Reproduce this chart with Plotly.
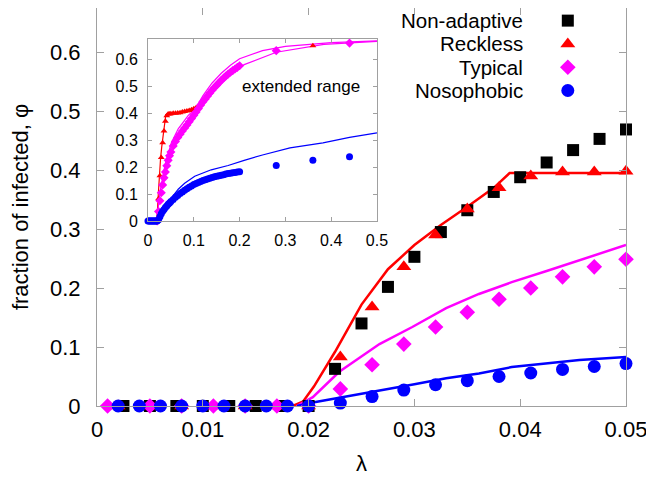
import plotly.graph_objects as go

# ---------------- main panel data ----------------
nonad_x = [0.0025, 0.005, 0.0075, 0.01, 0.0125, 0.015, 0.0175, 0.02, 0.0225, 0.025,
           0.0275, 0.03, 0.0325, 0.035, 0.0375, 0.04, 0.0425, 0.045, 0.0475, 0.05]
nonad_y = [0, 0, 0, 0, 0, 0, 0, 0, 0.063, 0.14,
           0.202, 0.253, 0.295, 0.332, 0.363, 0.388, 0.413, 0.434, 0.453, 0.469]

reck_x = [0.002, 0.005, 0.008, 0.011, 0.014, 0.017, 0.02, 0.023, 0.026, 0.029,
          0.032, 0.035, 0.038, 0.041, 0.044, 0.047, 0.05]
reck_y = [0, 0, 0, 0, 0, 0, 0, 0.083, 0.168, 0.236,
          0.29, 0.334, 0.37, 0.39, 0.397, 0.397, 0.398]

typ_x = [0.001, 0.005, 0.008, 0.011, 0.014, 0.017, 0.02, 0.023, 0.026, 0.029,
         0.032, 0.035, 0.038, 0.041, 0.044, 0.047, 0.05]
typ_y = [0, 0, 0, 0, 0, 0, 0, 0.029, 0.07, 0.105,
         0.134, 0.159, 0.181, 0.2, 0.219, 0.236, 0.249]

noso_x = [0.002, 0.004, 0.006, 0.008, 0.01, 0.012, 0.014, 0.016, 0.018, 0.02,
          0.023, 0.026, 0.029, 0.032, 0.035, 0.038, 0.041, 0.044, 0.047, 0.05]
noso_y = [0, 0, 0, 0, 0, 0, 0, 0, 0, 0,
          0.005, 0.016, 0.027, 0.036, 0.043, 0.05, 0.056, 0.062, 0.067, 0.072]

reck_th_x = [0.0185, 0.0195, 0.0205, 0.0225, 0.025, 0.0275, 0.03, 0.0325, 0.035, 0.0375, 0.039, 0.05]
reck_th_y = [0, 0.008, 0.033, 0.092, 0.172, 0.232, 0.273, 0.307, 0.338, 0.37, 0.395, 0.395]

typ_th_x = [0.0189, 0.0204, 0.0229, 0.0267, 0.0298, 0.033, 0.0361, 0.0392, 0.0425, 0.0456, 0.0487, 0.05]
typ_th_y = [0, 0.015, 0.058, 0.105, 0.134, 0.166, 0.19, 0.21, 0.229, 0.247, 0.265, 0.273]

noso_th_x = [0.0189, 0.0204, 0.0229, 0.0267, 0.03, 0.033, 0.0361, 0.0392, 0.0425, 0.0456, 0.05]
noso_th_y = [0, 0.006, 0.014, 0.027, 0.037, 0.047, 0.055, 0.066, 0.072, 0.078, 0.083]

# ---------------- inset data (extended range) ----------------
in_reck_x = [0.002, 0.005, 0.008, 0.011, 0.014, 0.017, 0.02, 0.023, 0.026, 0.029,
             0.032, 0.035, 0.038, 0.041, 0.044, 0.047, 0.05, 0.055, 0.06, 0.065,
             0.07, 0.075, 0.08, 0.085, 0.09, 0.095, 0.1, 0.105, 0.36]
in_reck_y = [0, 0, 0, 0, 0, 0, 0, 0.083, 0.168, 0.236,
             0.29, 0.334, 0.37, 0.39, 0.397, 0.397, 0.398, 0.4, 0.4, 0.401,
             0.402, 0.404, 0.406, 0.408, 0.41, 0.413, 0.416, 0.42, 0.65]

in_typ_x = [0.02, 0.023, 0.026, 0.029, 0.032, 0.035, 0.038, 0.041, 0.044, 0.047,
            0.05, 0.055, 0.06, 0.065, 0.07, 0.075, 0.08, 0.085, 0.09, 0.095,
            0.1, 0.105, 0.11, 0.115, 0.12, 0.125, 0.13, 0.135, 0.14, 0.145,
            0.15, 0.155, 0.16, 0.165, 0.17, 0.175, 0.18, 0.185, 0.19, 0.195,
            0.2, 0.28, 0.44]
in_typ_y = [0, 0.035, 0.075, 0.105, 0.134, 0.16, 0.182, 0.205, 0.225, 0.242,
            0.256, 0.278, 0.295, 0.31, 0.322, 0.334, 0.345, 0.356, 0.368, 0.38,
            0.392, 0.404, 0.417, 0.43, 0.442, 0.453, 0.464, 0.475, 0.485, 0.495,
            0.504, 0.513, 0.522, 0.53, 0.538, 0.545, 0.552, 0.558, 0.564, 0.57,
            0.576, 0.632, 0.66]

in_noso_x = [0.0, 0.002, 0.004, 0.006, 0.008, 0.01, 0.012, 0.014, 0.016, 0.018,
             0.02, 0.023, 0.026, 0.029, 0.032, 0.035, 0.038, 0.041, 0.044, 0.047,
             0.05, 0.055, 0.06, 0.065, 0.07, 0.075, 0.08, 0.085, 0.09, 0.095,
             0.1, 0.105, 0.11, 0.115, 0.12, 0.125, 0.13, 0.135, 0.14, 0.145,
             0.15, 0.155, 0.16, 0.165, 0.17, 0.175, 0.18, 0.185, 0.19, 0.195,
             0.2, 0.28, 0.36, 0.44]
in_noso_y = [0, 0, 0, 0, 0, 0, 0, 0, 0, 0,
             0, 0.005, 0.016, 0.027, 0.036, 0.043, 0.05, 0.056, 0.062, 0.067,
             0.072, 0.08, 0.088, 0.095, 0.102, 0.108, 0.114, 0.12, 0.125, 0.13,
             0.135, 0.139, 0.143, 0.147, 0.15, 0.153, 0.156, 0.159, 0.161, 0.164,
             0.166, 0.168, 0.17, 0.172, 0.174, 0.176, 0.177, 0.179, 0.18, 0.182,
             0.183, 0.206, 0.225, 0.238]

in_reck_th_x = [0.0185, 0.0205, 0.0225, 0.025, 0.0275, 0.03, 0.0325, 0.035, 0.0375, 0.039,
                0.045, 0.06, 0.08, 0.1, 0.104]
in_reck_th_y = [0, 0.035, 0.1, 0.178, 0.234, 0.275, 0.308, 0.338, 0.37, 0.395,
                0.397, 0.4, 0.406, 0.414, 0.418]

in_reck_th_hi_x = [0.104, 0.12, 0.14, 0.16, 0.18, 0.2, 0.25, 0.3, 0.4, 0.5]
in_reck_th_hi_y = [0.418, 0.465, 0.512, 0.548, 0.578, 0.602, 0.632, 0.648, 0.662, 0.668]

in_typ_th_x = [0.019, 0.026, 0.037, 0.051, 0.066, 0.088, 0.104, 0.124, 0.146, 0.167,
               0.189, 0.21, 0.28, 0.384, 0.5]
in_typ_th_y = [0, 0.106, 0.206, 0.29, 0.342, 0.392, 0.418, 0.455, 0.495, 0.528,
               0.556, 0.58, 0.626, 0.655, 0.666]

in_noso_th_x = [0.019, 0.025, 0.03, 0.04, 0.05, 0.066, 0.08, 0.102, 0.138, 0.175,
                0.21, 0.25, 0.31, 0.382, 0.44, 0.5]
in_noso_th_y = [0, 0.018, 0.037, 0.065, 0.083, 0.118, 0.14, 0.166, 0.19, 0.206,
                0.225, 0.245, 0.271, 0.29, 0.31, 0.327]

# ---------------- labels ----------------
series_names = ["Non-adaptive", "Reckless", "Typical", "Nosophobic"]
series_colors = ["#000000", "#ff0000", "#ff00ff", "#0000ff"]
series_symbols = ["square", "triangle-up", "diamond", "circle"]
main_xticks = [0, 0.01, 0.02, 0.03, 0.04, 0.05]
main_yticks = [0, 0.1, 0.2, 0.3, 0.4, 0.5, 0.6]
inset_xticks = [0, 0.1, 0.2, 0.3, 0.4, 0.5]
inset_yticks = [0, 0.1, 0.2, 0.3, 0.4, 0.5, 0.6]
x_title = "λ"
y_title = "fraction of infected, φ"
inset_note = "extended range"

FONT = "Liberation Sans, Arial, Helvetica, sans-serif"
FRAME = "#a0a0a0"

fig = go.Figure()

# main theory lines
for xs, ys, c in [(reck_th_x, reck_th_y, series_colors[1]),
                  (typ_th_x, typ_th_y, series_colors[2]),
                  (noso_th_x, noso_th_y, series_colors[3])]:
    fig.add_trace(go.Scatter(x=xs, y=ys, mode="lines", line=dict(color=c, width=2.5),
                             showlegend=False, hoverinfo="skip"))

# main markers
main_sets = [(nonad_x, nonad_y, 12), (reck_x, reck_y, 13), (typ_x, typ_y, 12), (noso_x, noso_y, 13)]
for (xs, ys, sz), c, s in zip(main_sets, series_colors, series_symbols):
    fig.add_trace(go.Scatter(x=xs, y=ys, mode="markers", cliponaxis=False,
                             marker=dict(color=c, symbol=s, size=sz, opacity=1, line=dict(width=0)),
                             showlegend=False))

# inset lines
inset_lines = [(in_reck_th_x, in_reck_th_y, series_colors[1]),
               (in_reck_th_hi_x, in_reck_th_hi_y, series_colors[2]),
               (in_typ_th_x, in_typ_th_y, series_colors[2]),
               (in_noso_th_x, in_noso_th_y, series_colors[3])]
for xs, ys, c in inset_lines:
    fig.add_trace(go.Scatter(x=xs, y=ys, mode="lines", line=dict(color=c, width=1.2),
                             xaxis="x2", yaxis="y2", showlegend=False, hoverinfo="skip"))

inset_sets = [(in_reck_x, in_reck_y, series_colors[1], series_symbols[1], 6),
              (in_typ_x, in_typ_y, series_colors[2], series_symbols[2], 7),
              (in_noso_x, in_noso_y, series_colors[3], series_symbols[3], 7)]
for xs, ys, c, s, sz in inset_sets:
    fig.add_trace(go.Scatter(x=xs, y=ys, mode="markers", cliponaxis=False,
                             marker=dict(color=c, symbol=s, size=sz, opacity=1, line=dict(width=0)),
                             xaxis="x2", yaxis="y2", showlegend=False))

# legend keys (gnuplot style: text then symbol)
LEG_KEY_X = 0.89
LEG_ROWS_Y = [0.9683, 0.9098, 0.8513, 0.7927]
LEG_TEXT_X = 0.809
key_sizes = [12, 13, 12, 13]
fig.add_trace(go.Scatter(x=[LEG_KEY_X] * 4, y=LEG_ROWS_Y, mode="markers",
                         marker=dict(color=series_colors, symbol=series_symbols, opacity=1,
                                     size=key_sizes, line=dict(width=0)),
                         xaxis="x3", yaxis="y3", showlegend=False, hoverinfo="skip"))

annotations = []
for name, yy in zip(series_names, LEG_ROWS_Y):
    annotations.append(dict(text=name, x=LEG_TEXT_X, y=yy, xref="paper", yref="paper",
                            xanchor="right", yanchor="middle", showarrow=False,
                            font=dict(size=20.5, family=FONT, color="black")))
annotations.append(dict(text=inset_note, x=0.335, y=0.5, xref="x2", yref="y2",
                        xanchor="center", yanchor="middle", showarrow=False,
                        font=dict(size=17, family=FONT, color="black")))

axis_common = dict(showline=True, linecolor=FRAME, linewidth=1, mirror="ticks",
                   ticks="inside", tickcolor=FRAME, showgrid=False, zeroline=False)

fig.update_layout(
    width=646, height=470,
    margin=dict(l=89, r=28, t=0, b=72),
    paper_bgcolor="white", plot_bgcolor="white",
    font=dict(family=FONT, color="black"),
    showlegend=False,
    xaxis=dict(domain=[0, 1], range=[0, 0.05], tickvals=main_xticks,
               ticktext=[f"{v:g}" for v in main_xticks], ticklen=7, ticklabelstandoff=4,
               tickfont=dict(size=22), title=dict(text=x_title, font=dict(size=22), standoff=14),
               **axis_common),
    yaxis=dict(domain=[0, 1], range=[0, 0.675], tickvals=main_yticks,
               ticktext=[f"{v:g}" for v in main_yticks], ticklen=7, ticklabelstandoff=11,
               tickfont=dict(size=22), title=dict(text=y_title, font=dict(size=22), standoff=19),
               **axis_common),
    xaxis2=dict(domain=[0.0964, 0.5293], anchor="y2", range=[0, 0.5], tickvals=inset_xticks,
                ticktext=[f"{v:g}" for v in inset_xticks], ticklen=4, ticklabelstandoff=5,
                tickfont=dict(size=16), **axis_common),
    yaxis2=dict(domain=[0.4648, 0.922], anchor="x2", range=[0, 0.675], tickvals=inset_yticks,
                ticktext=[f"{v:g}" for v in inset_yticks], ticklen=4, ticklabelstandoff=6,
                tickfont=dict(size=16), **axis_common),
    xaxis3=dict(domain=[0, 1], anchor="y3", overlaying="x", range=[0, 1], visible=False,
                fixedrange=True),
    yaxis3=dict(domain=[0, 1], anchor="x3", overlaying="y", range=[0, 1], visible=False,
                fixedrange=True),
    annotations=annotations,
)

fig.write_html("out.html")
